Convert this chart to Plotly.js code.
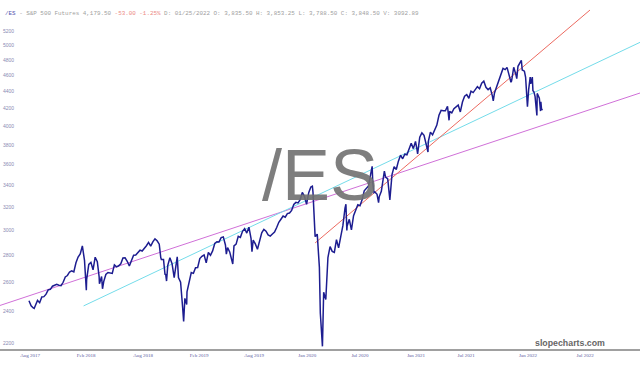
<!DOCTYPE html>
<html>
<head>
<meta charset="utf-8">
<script src="https://cdn.plot.ly/plotly-3.0.1.min.js"></script>
<style>html,body{margin:0;padding:0;background:#fff;}#chart{width:640px;height:365px;}</style>
</head>
<body>
<div id="chart"></div>
<script>
// Weekly closes (Friday), first week ending 2017-08-04
const firstWeek = '2017-08-04';
const close2017 = [2472,2438,2423,2440,2474,2459,2498,2500,2517,2547,2551,2573,2579,2586,2580,2577,2601,2640,2650,2676,2684,2676];
const close2018 = [2745,2788,2812,2875,2763,2620,2733,2748,2692,2787,2753,2590,2643,2606,2658,2672,2671,2665,2729,2714,2722,2737,2781,2782,2756,2720,2762,2803,2804,2821,2842,2835,2852,2877,2903,2874,2907,2932,2916,2889,2770,2770,2660,2725,2783,2738,2635,2762,2635,2602,2419,2488];
const close2019 = [2533,2597,2672,2666,2708,2709,2777,2794,2805,2744,2824,2802,2836,2895,2909,2907,2942,2948,2883,2862,2828,2753,2875,2889,2953,2944,2993,3016,2979,3028,2934,2921,2891,2849,2928,2981,3009,2994,2964,2954,2972,2988,3025,3069,3095,3122,3112,3143,3148,3171,3223,3242];
const close2020 = [3237,3267,3332,3297,3224,3330,3382,3335,2950,2970,2710,2290,2530,2480,2785,2870,2832,2825,2925,2860,2950,3040,3190,3038,3094,3005,3125,3180,3220,3212,3265,3347,3368,3392,3502,3422,3336,3315,3292,3343,3470,3476,3458,3264,3500,3578,3550,3632,3692,3656,3702,3696];
const close2021 = [3748,3817,3760,3835,3706,3880,3927,3900,3805,3834,3935,3905,3967,4012,4122,4178,4173,4174,4226,4167,4150,4197,4222,4239,4160,4275,4345,4363,4320,4405,4388,4430,4461,4435,4502,4528,4452,4424,4446,4348,4384,4464,4538,4598,4690,4675,4691,4588,4530,4705,4613,4718,4759];
const close2022 = [4670,4655,4390,4425,4495,4410,4342,4378,4322];

// Intra-week turning points
const swingDates  = ['2017-08-21','2018-02-05','2018-02-08','2018-03-22','2018-04-02','2018-10-10','2018-10-24','2018-10-29','2018-12-03','2018-12-24','2019-01-03','2019-05-13','2019-06-03','2019-08-05','2020-02-19','2020-03-16','2020-03-23','2020-06-08','2020-06-11','2020-09-02','2020-09-08','2020-09-23','2020-10-12','2021-01-27','2021-03-04','2021-05-12','2021-10-04','2021-11-18','2021-12-01','2021-12-20','2022-01-04','2022-01-18','2022-01-24','2022-02-02','2022-02-09','2022-02-14','2022-02-24','2022-03-08','2022-03-09','2022-03-11','2022-03-14'];
const swingValues = [2420,2645,2545,2640,2555,2785,2656,2610,2790,2335,2447,2811,2735,2830,3390,2390,2180,3225,3000,3580,3331,3240,3534,3750,3725,4065,4290,4704,4515,4560,4795,4577,4220,4580,4580,4400,4120,4170,4277,4200,4179.5];

// Trend lines (start/end date and price)
const magentaDates = ['2017-05-01','2023-01-28'], magentaVals = [2440,4383];
const cyanDates    = ['2018-01-30','2023-01-28'], cyanVals    = [2437,5040];
const redDates     = ['2020-02-28','2022-08-17'], redVals     = [2899,5509];

// Axis ticks
const yTicks = [2200,2400,2600,2800,3000,3200,3400,3600,3800,4000,4200,4400,4600,4800,5000,5200];
const xTickDates  = ['2017-08-08','2018-02-07','2018-08-13','2019-02-13','2019-08-12','2020-02-02','2020-07-24','2021-01-24','2021-07-07','2022-01-26','2022-08-01'];
const xTickLabels = ['Aug 2017','Feb 2018','Aug 2018','Feb 2019','Aug 2019','Jan 2020','Jul 2020','Jan 2021','Jul 2021','Jan 2022','Jul 2022'];

const headerSymbol = '/ES';
const headerName = '- S&P 500 Futures 4,179.50';
const headerChange = '-53.00 -1.25%';
const headerRest = 'D: 01/25/2022 O: 3,835.50 H: 3,853.25 L: 3,788.50 C: 3,848.50 V: 3092.89';

// Build series
const weekly = [].concat(close2017, close2018, close2019, close2020, close2021, close2022);
const pts = [];
const d0 = new Date(firstWeek + 'T00:00:00Z');
weekly.forEach((v, i) => {
  const d = new Date(d0.getTime() + i * 7 * 86400000);
  pts.push([d.toISOString().slice(0, 10), v]);
});
swingDates.forEach((d, i) => pts.push([d, swingValues[i]]));
pts.sort((a, b) => a[0] < b[0] ? -1 : a[0] > b[0] ? 1 : 0);

const traces = [
  {x: magentaDates, y: magentaVals, mode: 'lines', line: {color: '#d070d8', width: 1}, hoverinfo: 'skip'},
  {x: cyanDates, y: cyanVals, mode: 'lines', line: {color: '#74dcea', width: 1}, hoverinfo: 'skip'},
  {x: redDates, y: redVals, mode: 'lines', line: {color: '#ec6a60', width: 1}, hoverinfo: 'skip'},
  {x: pts.map(p => p[0]), y: pts.map(p => p[1]), mode: 'lines', line: {color: '#1d1d90', width: 1.5}, hoverinfo: 'skip'}
];

const layout = {
  width: 640, height: 365,
  margin: {l: 0, r: 0, t: 0, b: 16},
  paper_bgcolor: '#ffffff', plot_bgcolor: '#ffffff',
  showlegend: false,
  xaxis: {
    type: 'date', range: ['2017-05-01', '2023-01-28'],
    tickvals: xTickDates, ticktext: xTickLabels,
    showgrid: false, zeroline: false, showline: true, linecolor: '#a0a0a0', linewidth: 1.5,
    ticks: '', tickfont: {family: 'Liberation Serif', size: 5, color: '#5a5aa0'}
  },
  yaxis: {
    type: 'log', range: [Math.log10(2164), Math.log10(5664)],
    tickvals: yTicks, ticktext: yTicks.map(String),
    ticklabelposition: 'inside', ticks: '',
    showgrid: false, zeroline: false, showline: false,
    tickfont: {family: 'Liberation Sans', size: 5, color: '#8a8ab4'}
  },
  annotations: [
    {xref: 'paper', yref: 'paper', x: 0.004, y: 0.962, xanchor: 'left', yanchor: 'middle', showarrow: false,
     font: {family: 'Liberation Mono', size: 5.9, color: '#a0a0a0'},
     text: '<span style="color:#5656b0">' + headerSymbol + '</span> ' + headerName + ' <span style="color:#ec8a84">' + headerChange + '</span> ' + headerRest},
    {xref: 'paper', yref: 'paper', x: 0.5, y: 0.50, xanchor: 'center', yanchor: 'middle', showarrow: false,
     font: {family: 'Liberation Sans', size: 72, color: 'rgba(112,112,112,0.9)'}, text: '/ES'},
    {xref: 'paper', yref: 'paper', x: 0.949, y: 0.018, xanchor: 'right', yanchor: 'middle', showarrow: false,
     font: {family: 'Liberation Sans', size: 8.8, color: '#666666'}, text: '<b>slopecharts.com</b>'}
  ]
};

Plotly.newPlot('chart', traces, layout, {staticPlot: true, displayModeBar: false});
</script>
</body>
</html>
